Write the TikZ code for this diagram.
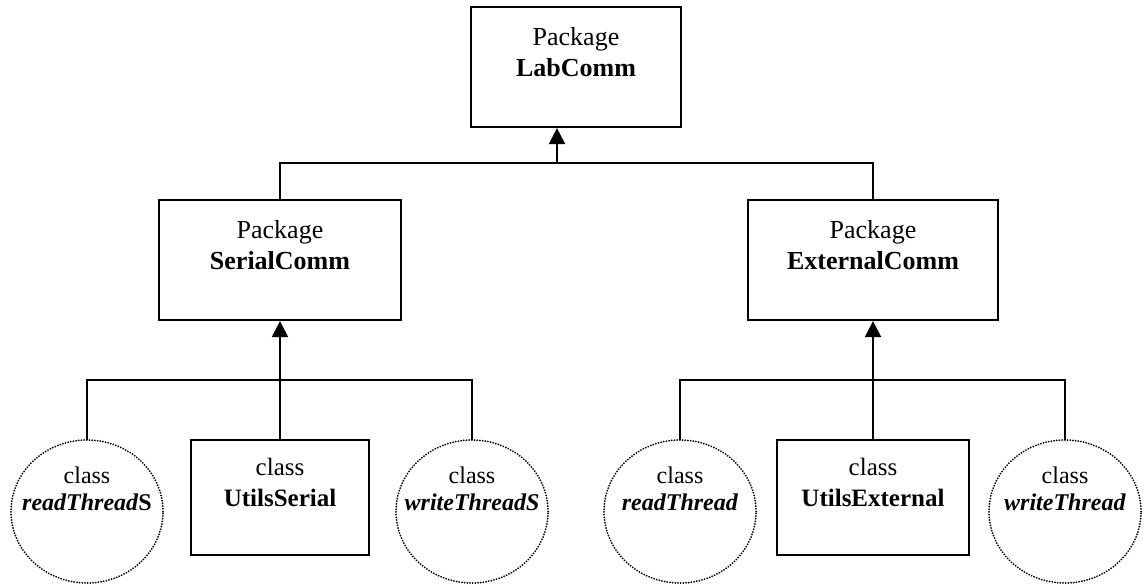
\documentclass[tikz,border=0pt]{standalone}
\usepackage{fontspec}
\setmainfont{Liberation Serif}
\usetikzlibrary{arrows.meta}
\begin{document}
\begin{tikzpicture}[x=1pt,y=-1pt,
  pkgbox/.style={draw,line width=2.2pt,rectangle,inner sep=0pt,align=center,
    font=\fontsize{26}{31}\selectfont},
  classbox/.style={draw,line width=2.2pt,rectangle,inner sep=0pt,align=center,
    minimum height=115pt,font=\fontsize{25}{31}\selectfont},
  dotcirc/.style={line width=2pt,dash pattern=on 0pt off 2.7pt,line cap=round},
  ctext/.style={align=center,inner sep=0pt,font=\fontsize{24}{27}\selectfont},
  conn/.style={line width=2.2pt},
  arr/.style={line width=2.2pt,-{Triangle[length=16pt,width=16pt]}}
]
\useasboundingbox (0,0) rectangle (1148,586);
% package boxes
\node[pkgbox,minimum width=210pt,minimum height=120pt] (lab) at (576,67) {Package\\\textbf{LabComm}\\\mbox{}};
\node[pkgbox,minimum width=242pt,minimum height=120pt] (ser) at (280,260) {Package\\\textbf{SerialComm}\\\mbox{}};
\node[pkgbox,minimum width=250pt,minimum height=120pt] (ext) at (873,260) {Package\\\textbf{ExternalComm}\\\mbox{}};
% class boxes
\node[classbox,minimum width=178pt] (us) at (280,497.5) {class\\\textbf{UtilsSerial}\\\mbox{}};
\node[classbox,minimum width=192pt] (ue) at (873,497.5) {class\\\textbf{UtilsExternal}\\\mbox{}};
% class circles
\coordinate (rtS) at (87,511.5);
\coordinate (wtS) at (472,511.5);
\coordinate (rt) at (680,511.5);
\coordinate (wt) at (1065,511.5);
\coordinate (rtSn) at (87,440);
\coordinate (wtSn) at (472,440);
\coordinate (rtn) at (680,440);
\coordinate (wtn) at (1065,440);
\draw[dotcirc] (rtS) ellipse [x radius=76pt,y radius=71.5pt];
\draw[dotcirc] (wtS) ellipse [x radius=76pt,y radius=71.5pt];
\draw[dotcirc] (rt) ellipse [x radius=76pt,y radius=71.5pt];
\draw[dotcirc] (wt) ellipse [x radius=76pt,y radius=71.5pt];
\node[ctext] (rtSt) at (87,489) {class\\\textbf{\textit{readThread}S}};
\node[ctext] (wtSt) at (472,489) {class\\\textbf{\textit{writeThreadS}}};
\node[ctext] (rtt) at (680,489) {class\\\textbf{\textit{readThread}}};
\node[ctext] (wtt) at (1065,489) {class\\\textbf{\textit{writeThread}}};
% top connectors
\coordinate (b1) at (557,163);
\draw[conn] (ser.north) -- (ser.north |- b1) -- (ext.north |- b1) -- (ext.north);
\draw[arr] (b1) -- (b1 |- lab.south);
% left group
\coordinate (b2) at (280,380);
\draw[conn] (rtSn) -- (rtSn |- b2) -- (wtSn |- b2) -- (wtSn);
\draw[arr] (us.north) -- (ser.south);
% right group
\coordinate (b3) at (873,380);
\draw[conn] (rtn) -- (rtn |- b3) -- (wtn |- b3) -- (wtn);
\draw[arr] (ue.north) -- (ext.south);
\end{tikzpicture}
\end{document}
